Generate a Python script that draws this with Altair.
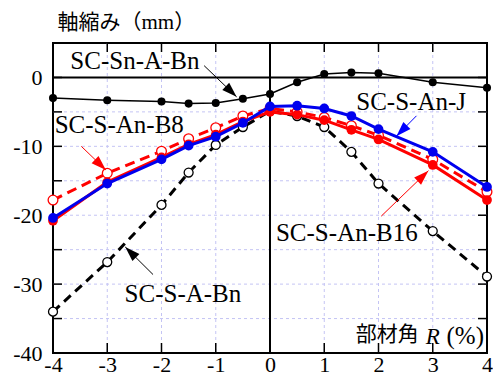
import altair as alt
import pandas as pd

# ---------------- data ----------------
R = [-4, -3, -2, -1.5, -1, -0.5, 0, 0.5, 1, 1.5, 2, 3, 4]
sc_sn_a_bn = [-3.0, -3.3, -3.5, -3.8, -3.7, -3.1, -2.4, -0.7, 0.5, 0.7, 0.6, -0.7, -1.5]
sc_s_an_j = [-20.4, -15.4, -11.9, -9.9, -8.6, -6.6, -4.2, -4.1, -4.5, -5.6, -7.5, -10.8, -15.9]
sc_s_an_b16 = [-20.8, -15.2, -11.6, -9.7, -8.3, -6.4, -5.0, -5.4, -6.2, -7.6, -9.0, -12.7, -17.8]
sc_s_an_b8 = [-17.8, -13.9, -10.7, -8.9, -7.3, -5.6, -4.5, -5.0, -5.8, -7.0, -8.4, -11.9, -16.6]
sc_s_a_bn = [-34.0, -26.8, -18.5, -13.8, -9.8, -7.2, -4.9, -5.6, -7.2, -10.8, -15.4, -22.3, -28.9]

x_ticks = [-4, -3, -2, -1, 0, 1, 2, 3, 4]
y_labels = [-40, -30, -20, -10, 0]
grid_x = [-3, -2, -1, 1, 2, 3]
grid_y = [-35, -30, -25, -20, -15, -10, -5]
tick_y = [-35, -30, -25, -20, -15, -10, -5, 0]

label_text = ["SC-Sn-A-Bn", "SC-S-An-B8", "SC-S-An-J", "SC-S-An-B16", "SC-S-A-Bn"]
label_x = [-3.68, -3.97, 1.59, 0.11, -2.68]
label_y = [1.24, -8.04, -4.71, -23.76, -32.57]

arrow_x1 = [-1.214, -3.478, 2.70, 2.05, -2.156]
arrow_y1 = [1.71, -10.0, -5.57, -20.14, -28.61]
arrow_x2 = [-0.616, -3.025, 2.33, 2.92, -2.668]
arrow_y2 = [-2.81, -13.43, -8.53, -13.53, -24.61]
arrow_color = ["black", "red", "blue", "red", "black"]
arrow_angle = [133.8, 133.8, 224.4, 46.0, 314.7]

# ---------------- tables ----------------
def series(vals):
    return pd.DataFrame({"R": R, "v": vals})

W, H = 434, 310

grid_x_df = pd.DataFrame({"R": grid_x})
grid_y_df = pd.DataFrame({"v": grid_y})
tick_y_df = pd.DataFrame({"v": tick_y})
tick_x_df = pd.DataFrame({"R": grid_x})
zero_df = pd.DataFrame({"R": [0], "v": [0]})
labels_df = pd.DataFrame({"R": label_x, "v": label_y, "t": label_text})
arrows_df = pd.DataFrame({"R": arrow_x1, "v": arrow_y1, "R2": arrow_x2, "v2": arrow_y2,
                          "c": arrow_color, "ang": arrow_angle})

xs = alt.Scale(domain=[-4, 4], nice=False, zero=False)
ys = alt.Scale(domain=[-40, 5], nice=False, zero=False)

SERIF = "'Liberation Serif', 'Times New Roman', 'DejaVu Serif', serif"
CJK = "'Noto Sans CJK JP', sans-serif"
xaxis = alt.Axis(values=x_ticks, labelExpr="'' + datum.value", grid=False, ticks=False,
                 domain=False, labelFont=SERIF, labelFontSize=22, labelColor="black",
                 labelPadding=1, labelFlush=False, labelOverlap=False, title=None)
yaxis = alt.Axis(values=y_labels, labelExpr="'' + datum.value", grid=False, ticks=False,
                 domain=False, labelFont=SERIF, labelFontSize=22, labelColor="black",
                 labelPadding=11, labelOverlap=False,
                 title="軸縮み（mm）", titleAngle=0, titleX=4, titleY=-21,
                 titleAlign="left", titleBaseline="middle",
                 titleFont="'Liberation Serif', 'Noto Sans CJK JP', serif", titleFontSize=21,
                 titleFontWeight="normal", titleColor="black")


def X(field="R"):
    return alt.X(f"{field}:Q", scale=xs, axis=xaxis)


def Y(field="v"):
    return alt.Y(f"{field}:Q", scale=ys, axis=yaxis)


GRID = "#c4c4f4"
layers = []
layers.append(alt.Chart(grid_x_df).mark_rule(color=GRID, strokeWidth=1, strokeDash=[3, 3]).encode(x=X()))
layers.append(alt.Chart(grid_y_df).mark_rule(color=GRID, strokeWidth=1, strokeDash=[3, 3]).encode(y=Y()))
# inward ticks
layers.append(alt.Chart(tick_y_df).mark_rule(color="black", strokeWidth=1.5).encode(
    y=Y(), x=alt.value(0), x2=alt.value(9)))
layers.append(alt.Chart(tick_y_df).mark_rule(color="black", strokeWidth=1.5).encode(
    y=Y(), x=alt.value(W), x2=alt.value(W - 9)))
layers.append(alt.Chart(tick_x_df).mark_rule(color="black", strokeWidth=1.5).encode(
    x=X(), y=alt.value(H), y2=alt.value(H - 10)))
layers.append(alt.Chart(tick_x_df).mark_rule(color="black", strokeWidth=1.5).encode(
    x=X(), y=alt.value(0), y2=alt.value(9)))
# zero lines
layers.append(alt.Chart(zero_df).mark_rule(color="black", strokeWidth=2).encode(x=X()))
layers.append(alt.Chart(zero_df).mark_rule(color="black", strokeWidth=2).encode(y=Y()))

# series
d = series(sc_s_a_bn)
layers.append(alt.Chart(d).mark_line(color="black", strokeWidth=3, strokeDash=[9, 6]).encode(x=X(), y=Y()))
layers.append(alt.Chart(d).mark_point(shape="circle", fill="white", stroke="black", strokeWidth=1.3,
                                      size=80, opacity=1, fillOpacity=1).encode(x=X(), y=Y()))
d = series(sc_s_an_b8)
layers.append(alt.Chart(d).mark_line(color="red", strokeWidth=3, strokeDash=[10, 6]).encode(x=X(), y=Y()))
layers.append(alt.Chart(d).mark_point(shape="circle", fill="white", stroke="red", strokeWidth=1.3,
                                      size=95, opacity=1, fillOpacity=1).encode(x=X(), y=Y()))
d = series(sc_s_an_b16)
layers.append(alt.Chart(d).mark_line(color="red", strokeWidth=3).encode(x=X(), y=Y()))
layers.append(alt.Chart(d).mark_point(shape="circle", filled=True, color="red", size=95,
                                      opacity=1).encode(x=X(), y=Y()))
d = series(sc_s_an_j)
layers.append(alt.Chart(d).mark_line(color="#0000ee", strokeWidth=3).encode(x=X(), y=Y()))
layers.append(alt.Chart(d).mark_point(shape="circle", filled=True, color="#0000ee", size=95,
                                      opacity=1).encode(x=X(), y=Y()))
d = series(sc_sn_a_bn)
layers.append(alt.Chart(d).mark_line(color="black", strokeWidth=1.5).encode(x=X(), y=Y()))
layers.append(alt.Chart(d).mark_point(shape="circle", filled=True, color="black", size=65,
                                      opacity=1).encode(x=X(), y=Y()))

# annotation arrows
layers.append(alt.Chart(arrows_df).mark_rule(strokeWidth=1).encode(
    x=X(), y=Y(), x2="R2:Q", y2="v2:Q", color=alt.Color("c:N", scale=None)))
layers.append(alt.Chart(arrows_df).mark_point(shape="M0,0L0.33,1L-0.33,1Z", filled=True, size=900,
                                              opacity=1, strokeWidth=0).encode(
    x=X("R2"), y=Y("v2"), color=alt.Color("c:N", scale=None), angle=alt.Angle("ang:Q", scale=None)))

# annotation labels
layers.append(alt.Chart(labels_df).mark_text(align="left", baseline="alphabetic", font=SERIF,
                                             fontSize=25, color="black").encode(
    x=X(), y=Y(), text="t:N"))

# x axis title inside the plot
xt = pd.DataFrame({"R": [2.74], "v": [-38.3], "t": ["部材角"]})
layers.append(alt.Chart(xt).mark_text(align="right", baseline="alphabetic", font=CJK,
                                      fontSize=21, color="black").encode(x=X(), y=Y(), text="t:N"))
xt = pd.DataFrame({"R": [3.13], "v": [-38.7], "t": ["R"]})
layers.append(alt.Chart(xt).mark_text(align="right", baseline="alphabetic", font=SERIF, fontStyle="italic",
                                      fontSize=23, color="black").encode(x=X(), y=Y(), text="t:N"))
xt = pd.DataFrame({"R": [3.944], "v": [-38.7], "t": ["(%)"]})
layers.append(alt.Chart(xt).mark_text(align="right", baseline="alphabetic", font=SERIF,
                                      fontSize=25, color="black").encode(x=X(), y=Y(), text="t:N"))

chart = alt.layer(*layers).properties(
    width=W, height=H,
    autosize=alt.AutoSizeParams(type="none"),
    padding={"left": 45, "top": 35, "right": 6, "bottom": 23},
).configure_view(stroke="black", strokeWidth=2)

chart.save("out.html", embed_options={"renderer": "svg", "actions": False})
